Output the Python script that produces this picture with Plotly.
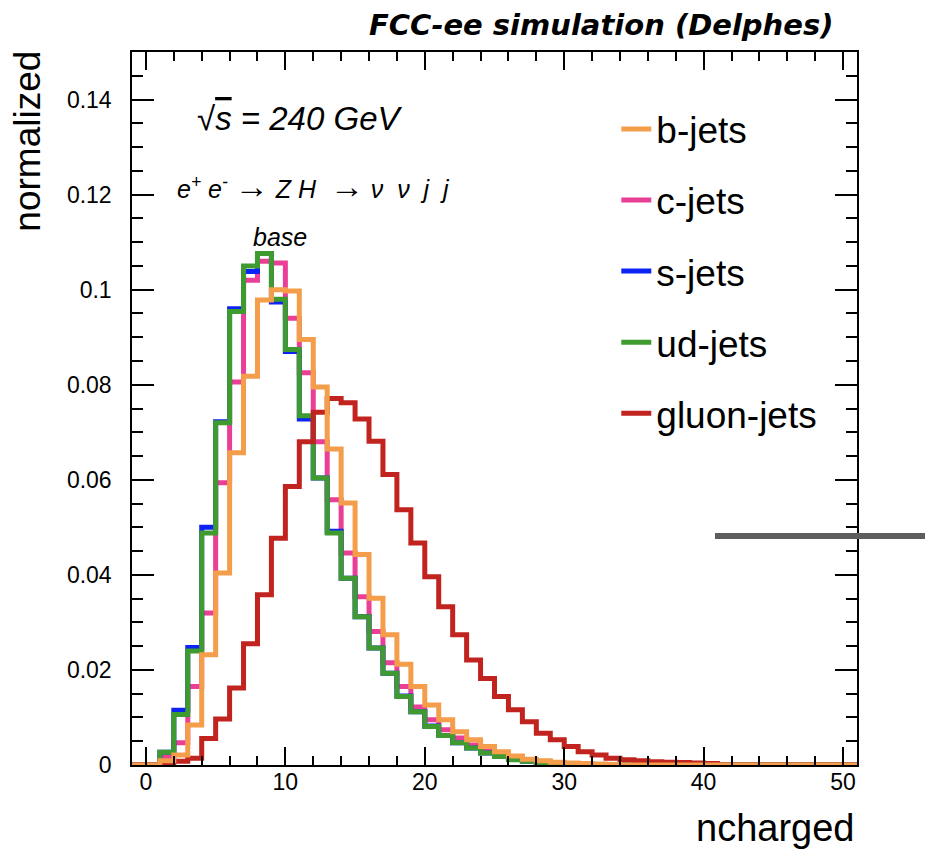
import plotly.graph_objects as go

# ---------------- data ----------------
bin_edges = list(range(-1, 52))          # 52 bins of width 1 from -1 to 51

# normalized ncharged distributions, bins starting at 0 (bin [k, k+1))
b_jets = [0, 0.0009, 0.0021, 0.0084, 0.0232, 0.0404, 0.0657, 0.0818, 0.0978, 0.1000,
          0.0997, 0.0895, 0.0795, 0.0665, 0.0551, 0.0443, 0.0351, 0.0274, 0.0212, 0.0165,
          0.0126, 0.0095, 0.0070, 0.0053, 0.0039, 0.0028, 0.0019, 0.0012, 0.0009, 0.0006,
          0.0004, 0.0003, 0.0002, 0.0001]
c_jets = [0, 0.0017, 0.0047, 0.0165, 0.0320, 0.0594, 0.0806, 0.1020, 0.1060, 0.1056,
          0.0940, 0.0825, 0.0680, 0.0558, 0.0446, 0.0354, 0.0281, 0.0215, 0.0165, 0.0122,
          0.0095, 0.0074, 0.0057, 0.0042, 0.0031, 0.0022, 0.0015, 0.0010, 0.0007, 0.0004,
          0.0003, 0.0002, 0.0001]
s_jets = [0, 0.0027, 0.0115, 0.0247, 0.0500, 0.0722, 0.0960, 0.1038, 0.1076, 0.0974,
          0.0870, 0.0728, 0.0604, 0.0492, 0.0393, 0.0312, 0.0246, 0.0193, 0.0145, 0.0112,
          0.0082, 0.0062, 0.0047, 0.0036, 0.0025, 0.0018, 0.0012, 0.0008, 0.0005, 0.0003,
          0.0002, 0.0002, 0.0001, 0.0001]
ud_jets = [0, 0.0027, 0.0106, 0.0240, 0.0488, 0.0720, 0.0954, 0.1050, 0.1076, 0.0980,
           0.0874, 0.0735, 0.0604, 0.0488, 0.0393, 0.0312, 0.0246, 0.0193, 0.0144, 0.0112,
           0.0081, 0.0062, 0.0047, 0.0036, 0.0025, 0.0018, 0.0011, 0.0008, 0.0005, 0.0003,
           0.0002, 0.0001, 0.0001, 0.0001]
gluon_jets = [0, 0, 0.0008, 0.0014, 0.0056, 0.0097, 0.0162, 0.0255, 0.0358, 0.0477,
              0.0586, 0.0680, 0.0742, 0.0771, 0.0762, 0.0728, 0.0681, 0.0611, 0.0537, 0.0467,
              0.0396, 0.0333, 0.0274, 0.0221, 0.0182, 0.0144, 0.0116, 0.0091, 0.0067, 0.0053,
              0.0039, 0.0028, 0.0021, 0.0014, 0.0011, 0.0009, 0.0007, 0.0006, 0.0005, 0.0004,
              0.0003]

y_tickvals = [0, 0.02, 0.04, 0.06, 0.08, 0.10, 0.12, 0.14]
y_ticktext = ["0", "0.02", "0.04", "0.06", "0.08", "0.1", "0.12", "0.14"]
x_tickvals = [0, 10, 20, 30, 40, 50]
x_ticktext = ["0", "10", "20", "30", "40", "50"]

# ---------------- helpers ----------------
def hist_y(vals):
    """values for bins -1..50, with the last repeated for the 'hv' step line"""
    nb = len(bin_edges) - 1
    ys = [0.0] + list(vals)
    ys += [0.0] * (nb - len(ys))
    return ys + [ys[-1]]

FONT = "Liberation Sans, Arial, Helvetica, sans-serif"

series = [  # draw order (bottom to top)
    ("c-jets", c_jets, "#EA3F96", 2),
    ("s-jets", s_jets, "#0B24F5", 3),
    ("ud-jets", ud_jets, "#3F9B2F", 4),
    ("gluon-jets", gluon_jets, "#C1231F", 5),
    ("b-jets", b_jets, "#F49D4A", 1),
]

fig = go.Figure()
for name, vals, col, rank in series:
    fig.add_trace(go.Scatter(
        x=bin_edges, y=hist_y(vals), mode="lines", line_shape="hv",
        line=dict(color=col, width=5), name=name, legendrank=rank,
        legendgroup=name,
    ))

axis_common = dict(
    showline=True, linecolor="black", linewidth=1.5, mirror="ticks",
    ticks="inside", tickcolor="black", tickwidth=1.5,
    showgrid=False, zeroline=False,
    tickfont=dict(family=FONT, size=23, color="black"),
)

fig.update_xaxes(
    range=[-1, 51], tickvals=x_tickvals, ticktext=x_ticktext, ticklen=18,
    minor=dict(ticks="inside", ticklen=9, dtick=2, tick0=0, tickcolor="black", tickwidth=1.5),
    ticklabelstandoff=-4,
    **axis_common,
)
fig.update_yaxes(
    range=[0, 0.15], tickvals=y_tickvals, ticktext=y_ticktext, ticklen=22,
    minor=dict(ticks="inside", ticklen=11, dtick=0.005, tick0=0, tickcolor="black", tickwidth=1.5),
    ticklabelstandoff=14,
    **axis_common,
)

# the page body adds an 8 px margin; size the figure so the window holds it
OFF = 8
W, H = 933 - OFF, 857 - OFF
ml, mr, mt, mb = 132 - OFF, 76, 52 - OFF, 92

fig.update_layout(
    width=W, height=H,
    margin=dict(l=ml, r=mr, t=mt, b=mb),
    paper_bgcolor="white", plot_bgcolor="white",
    showlegend=True,
    legend=dict(
        x=0.668, y=0.935, xanchor="left", yanchor="top",
        font=dict(family=FONT, size=37, color="black"),
        bgcolor="rgba(0,0,0,0)", borderwidth=0,
        tracegroupgap=20, itemwidth=30,
    ),
    font=dict(family=FONT, color="black"),
)

ARROW = "<span style='font-size:34px'>→</span>"
# positions given in window pixels of the reference
annotations = [
    dict(text="<b><i>FCC-ee simulation (Delphes)</i></b>", x=835, y=25, size=29, xanchor="right",
         family="DejaVu Sans, Liberation Sans, Arial, sans-serif"),
    dict(text="<i>√<span style='text-decoration:overline'>s</span> = 240 GeV</i>", x=195, y=118,
         size=33, xanchor="left"),
    dict(text=f"<i>e<sup>+</sup> e<sup>-</sup> {ARROW} Z H &nbsp;{ARROW} ν &nbsp;ν &nbsp;j &nbsp;j</i>",
         x=175, y=186, size=25, xanchor="left"),
    dict(text="<i>base</i>", x=280, y=237, size=25, xanchor="center"),
    dict(text="ncharged", x=856, y=828, size=38, xanchor="right"),
]
pw, ph = W - ml - mr, H - mt - mb
for a in annotations:
    fx = (a["x"] - OFF - ml) / pw
    fy = (H - mb - (a["y"] - OFF)) / ph
    fig.add_annotation(
        text=a["text"], x=fx, y=fy, xref="paper", yref="paper",
        xanchor=a["xanchor"], yanchor="middle", showarrow=False,
        font=dict(family=a.get("family", FONT), color="black", size=a["size"]),
    )

# rotated y-axis title, aligned to the top of the frame
fig.add_annotation(
    text="normalized", textangle=-90, x=(28 - OFF - ml) / pw, y=1.004,
    xref="paper", yref="paper", xanchor="center", yanchor="top",
    showarrow=False, font=dict(family=FONT, size=37, color="black"),
)

# stray grey line at the right edge of the canvas
ly = (H - mb - (536 - OFF)) / ph
fig.add_shape(type="line", xref="paper", yref="paper",
              x0=(715 - OFF - ml) / pw, x1=(940 - OFF - ml) / pw,
              y0=ly, y1=ly,
              line=dict(color="#5E5E5E", width=6), layer="above")

fig.write_html("out.html")
